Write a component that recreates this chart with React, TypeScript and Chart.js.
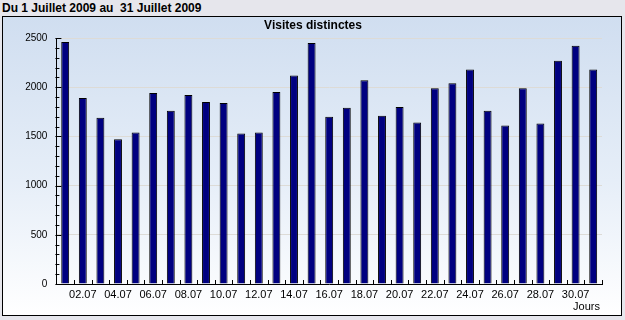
import React, { useEffect, useRef } from "react";
import { Chart, registerables } from "chart.js";

Chart.register(...registerables);

const days: string[] = [
  "01.07", "02.07", "03.07", "04.07", "05.07", "06.07", "07.07", "08.07", "09.07", "10.07",
  "11.07", "12.07", "13.07", "14.07", "15.07", "16.07", "17.07", "18.07", "19.07", "20.07",
  "21.07", "22.07", "23.07", "24.07", "25.07", "26.07", "27.07", "28.07", "29.07", "30.07", "31.07",
];
const visits: number[] = [
  2460, 1890, 1690, 1470, 1540, 1940, 1760, 1920, 1850, 1840,
  1530, 1540, 1950, 2120, 2450, 1700, 1790, 2070, 1710, 1800,
  1640, 1990, 2040, 2180, 1760, 1610, 1990, 1630, 2270, 2420, 2180,
];
const yMax = 2500;
const yStep = 500;
const yMinorStep = 100;
const headerText = "Du 1 Juillet 2009 au  31 Juillet 2009";
const chartTitle = "Visites distinctes";
const xAxisTitle = "Jours";

const tickPlugin = {
  id: "customTicks",
  afterDraw(chart: any) {
    const { ctx, chartArea, scales } = chart;
    const y = scales.y;
    const x = scales.x;
    ctx.save();
    ctx.strokeStyle = "#000";
    ctx.lineWidth = 1;
    ctx.beginPath();
    for (let v = 0; v <= yMax; v += yMinorStep) {
      const py = Math.round(y.getPixelForValue(v)) + 0.5;
      const len = v % yStep === 0 ? 5 : 3;
      ctx.moveTo(chartArea.left - 1, py);
      ctx.lineTo(chartArea.left + len, py);
    }
    const half = (x.getPixelForValue(1) - x.getPixelForValue(0)) / 2;
    for (let i = 0; i < days.length; i++) {
      const px = Math.round(x.getPixelForValue(i) + half) + 0.5;
      ctx.moveTo(px, chartArea.bottom);
      ctx.lineTo(px, chartArea.bottom - 4);
    }
    ctx.stroke();
    ctx.fillStyle = "#000";
    ctx.font = "11px 'Liberation Sans', Arial, sans-serif";
    ctx.textAlign = "right";
    ctx.textBaseline = "middle";
    ctx.fillText(xAxisTitle, chartArea.right - 2, chartArea.bottom + 23);
    ctx.font = "bold 12px 'Liberation Sans', Arial, sans-serif";
    ctx.textAlign = "center";
    ctx.fillText(chartTitle, 310, 9);
    ctx.restore();
  },
};

export default function App() {
  const ref = useRef<HTMLCanvasElement | null>(null);
  useEffect(() => {
    if (!ref.current) return;
    const chart = new Chart(ref.current, {
      type: "bar",
      data: {
        labels: days,
        datasets: [
          {
            data: visits,
            backgroundColor: "#000080",
            borderColor: "#000000",
            borderWidth: 1,
            barPercentage: 0.45,
            categoryPercentage: 1,
          },
        ],
      },
      options: {
        animation: false,
        responsive: false,
        maintainAspectRatio: false,
        layout: { padding: { left: 0, right: 19, top: 21, bottom: 0 } },
        plugins: {
          legend: { display: false },
          tooltip: { enabled: false },
          title: { display: false },
        },
        scales: {
          x: {
            type: "category",
            offset: true,
            grid: { display: false, drawTicks: false },
            border: { display: true, color: "#000", width: 1 },
            ticks: {
              autoSkip: false,
              maxRotation: 0,
              minRotation: 0,
              padding: 4,
              color: "#000",
              font: { family: "'Liberation Sans', Arial, sans-serif", size: 11 },
              callback: (_v: any, i: number) => (i % 2 === 1 ? days[i] : ""),
            },
            afterFit: (s: any) => {
              s.height = 31;
            },
          },
          y: {
            min: 0,
            max: yMax,
            grid: { color: "#dddbd6", drawTicks: false },
            border: { display: true, color: "#000", width: 1 },
            ticks: {
              stepSize: yStep,
              padding: 9,
              color: "#000",
              font: { family: "'Liberation Sans', Arial, sans-serif", size: 10 },
              callback: (v: any) => String(v),
            },
            afterFit: (s: any) => {
              s.width = 53.4;
            },
          },
        },
      },
      plugins: [tickPlugin],
    });
    return () => chart.destroy();
  }, []);

  return (
    <div
      style={{
        position: "absolute",
        left: 0,
        top: 0,
        width: 625,
        height: 320,
        background: "#e6e6ec",
        overflow: "hidden",
      }}
    >
      <div
        style={{
          position: "absolute",
          left: 2,
          top: 1,
          whiteSpace: "pre",
          font: "bold 12px 'Liberation Sans', Arial, sans-serif",
          color: "#000",
          lineHeight: "14px",
        }}
      >
        {headerText}
      </div>
      <div
        style={{
          position: "absolute",
          left: 2,
          top: 16,
          width: 618,
          height: 298,
          border: "1px solid #000",
          background: "linear-gradient(to bottom, #d0def0 0%, #e6eef8 55%, #ffffff 100%)",
        }}
      >
        <canvas ref={ref} width={618} height={298} style={{ display: "block", width: 618, height: 298 }} />
      </div>
    </div>
  );
}
